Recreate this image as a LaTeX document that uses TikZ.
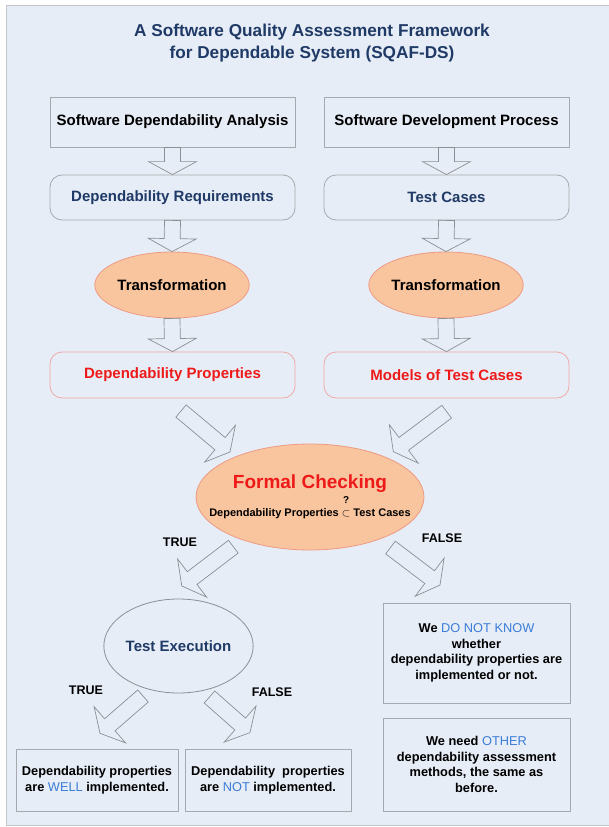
\documentclass[tikz,border=0pt]{standalone}
\usepackage{fontspec}
\setmainfont{Liberation Sans}
\usetikzlibrary{calc,shapes.geometric}

\definecolor{panel}{HTML}{E7EDF6}
\definecolor{panelline}{HTML}{C2C6CC}
\definecolor{navy}{HTML}{1F3A66}
\definecolor{hlblue}{HTML}{3B7DD8}
\definecolor{fcred}{HTML}{EE1A1A}
\definecolor{peach}{HTML}{F9C59E}
\definecolor{peachline}{HTML}{EE9A84}
\definecolor{pinkline}{HTML}{F0A8A8}
\definecolor{boxline}{HTML}{A6A9AE}
\definecolor{arrowline}{HTML}{8C8F94}

% hollow block arrow from #1 to #2
\newcommand{\fatarrow}[2]{%
  \path let \p1 = ($(#2)-(#1)$), \n1 = {atan2(\y1,\x1)}, \n2 = {veclen(\x1,\y1)} in
    \pgfextra{\xdef\farang{\n1}\xdef\farlen{\n2}};
  \draw[fatarr, shift={(#1)}, rotate=\farang]
    (0,-8) -- (\farlen-13,-8) -- (\farlen-13,-24) -- (\farlen,0)
    -- (\farlen-13,24) -- (\farlen-13,8) -- (0,8) -- cycle;
}

\begin{document}
\begin{tikzpicture}[x=1pt, y=-1pt,
    plainbox/.style={draw=boxline, line width=0.8pt, minimum width=245pt, minimum height=50pt,
      font=\fontsize{15}{18}\selectfont\bfseries},
    roundbox/.style={plainbox, rounded corners=12pt, minimum height=45pt, text=navy},
    propbox/.style={roundbox, draw=pinkline, minimum height=46pt, text=fcred},
    transell/.style={ellipse, draw=peachline, fill=peach, line width=0.8pt, inner sep=0pt,
      minimum width=148pt, minimum height=66pt, font=\fontsize{15}{18}\selectfont\bfseries},
    notebox/.style={draw=boxline, line width=0.8pt, align=center, inner sep=2pt,
      font=\fontsize{12.8}{15.5}\selectfont\bfseries},
    tflabel/.style={font=\fontsize{12.5}{14}\selectfont\bfseries},
    fatarr/.style={draw=arrowline, line width=0.7pt, line join=miter}]
    \useasboundingbox (0,0) rectangle (609,827);
    \fill[white] (0,0) rectangle (609,827);
    \draw[panelline, fill=panel, line width=0.8pt] (6,5) rectangle (615,825);

    % Title
    \node[align=center, text=navy, font=\fontsize{17.2}{22}\selectfont\bfseries] (title) at (312,43)
      {A Software Quality Assessment Framework\\for Dependable System (SQAF-DS)};

    % Nodes for the two columns
    \node[plainbox] (sda) at (172.5,122) {Software Dependability Analysis};
    \node[plainbox] (sdp) at (446.5,122) {Software Development Process};
    \node[roundbox] (req) at (172.5,197.5) {Dependability Requirements};
    \node[roundbox] (tc) at (446.5,197.5) {Test Cases};
    \node[transell] (trl) at (172,285) {Transformation};
    \node[transell] (trr) at (446,285) {Transformation};
    \node[propbox] (dp) at (172.5,375) {Dependability Properties};
    \node[propbox] (mtc) at (446.5,375) {Models of Test Cases};

    % Checking and its results
    \node[ellipse, draw=peachline, fill=peach, line width=0.8pt, inner xsep=-22pt, inner ysep=0pt,
      minimum width=228pt, minimum height=106pt, align=center] (fc) at (310,497)
      {{\fontsize{19}{21}\selectfont\bfseries\color{fcred}Formal Checking}\\[2pt]
       {\fontsize{11}{13}\selectfont\bfseries Dependability Properties
        $\stackrel{\raisebox{5pt}{\fontsize{10}{10}\selectfont\bfseries ?}}{\subset}$ Test Cases}};
    \node[ellipse, draw=arrowline, line width=0.8pt, inner sep=0pt, minimum width=137pt,
      minimum height=94pt, text=navy, font=\fontsize{15}{18}\selectfont\bfseries] (te) at (178.5,646)
      {Test Execution};
    \node[notebox, minimum width=187pt, minimum height=100pt] (dnk) at (476.5,653)
      {We \textcolor{hlblue}{\mdseries DO NOT KNOW}\\whether\\dependability properties are\\implemented or not.};
    \node[notebox, minimum width=187pt, minimum height=93pt] (other) at (476.5,764.5)
      {We need \textcolor{hlblue}{\mdseries OTHER}\\dependability assessment\\methods, the same as\\before.};
    \node[notebox, minimum width=162pt, minimum height=62pt] (well) at (97,780)
      {Dependability properties\\are \textcolor{hlblue}{\mdseries WELL} implemented.};
    \node[notebox, minimum width=166pt, minimum height=62pt] (notimpl) at (268,780)
      {Dependability\ \ properties\\are \textcolor{hlblue}{\mdseries NOT} implemented.};

    % Labels
    \node[tflabel] (t1) at (180,542) {TRUE};
    \node[tflabel] (f1) at (442,538) {FALSE};
    \node[tflabel] (t2) at (86,690) {TRUE};
    \node[tflabel] (f2) at (272,692) {FALSE};

    % Free ends of the slanted arrows
    \coordinate (inl) at (181,411);   \coordinate (inlt) at (230,452);
    \coordinate (inr) at (446.7,411.7); \coordinate (inrt) at (393.3,451.7);
    \coordinate (outt) at (233.3,546.7); \coordinate (outtt) at (181.7,586);
    \coordinate (outf) at (390.5,547.5); \coordinate (outft) at (440,585);
    \coordinate (tet) at (143,696);   \coordinate (tett) at (100,733.3);
    \coordinate (tef) at (209.5,697); \coordinate (teft) at (250,732.7);

    % Arrows
    \fatarrow{sda.south}{req.north}
    \fatarrow{sdp.south}{tc.north}
    \fatarrow{req.south}{trl.north}
    \fatarrow{tc.south}{trr.north}
    \fatarrow{trl.south}{dp.north}
    \fatarrow{trr.south}{mtc.north}
    \fatarrow{inl}{inlt}
    \fatarrow{inr}{inrt}
    \fatarrow{outt}{outtt}
    \fatarrow{outf}{outft}
    \fatarrow{tet}{tett}
    \fatarrow{tef}{teft}
\end{tikzpicture}
\end{document}
